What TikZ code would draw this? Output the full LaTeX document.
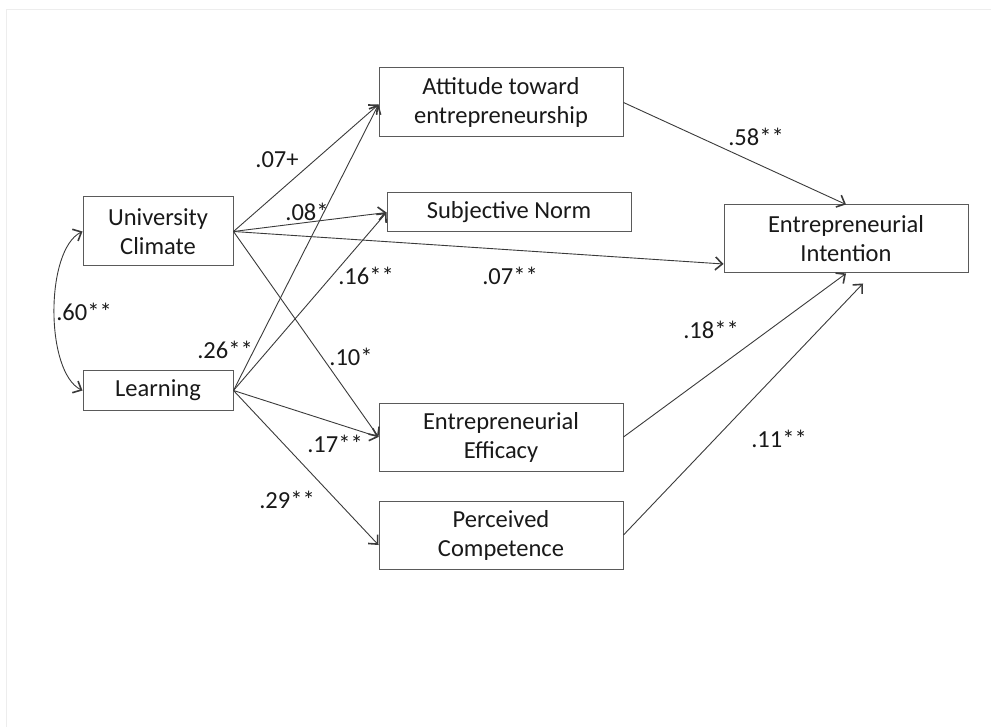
\documentclass[tikz,border=0pt]{standalone}
\usepackage{fontspec}
\setmainfont{Carlito}
\usetikzlibrary{arrows.meta,calc}
\definecolor{boxline}{HTML}{5A5A5A}
\definecolor{arrline}{HTML}{3A3A3A}
\definecolor{frameline}{HTML}{EDEDED}
\tikzset{
  varbox/.style={draw=boxline, line width=1pt, fill=white, align=center, inner sep=0pt,
    font=\fontsize{24.5}{29}\selectfont, text=black!90},
  path/.style={draw=arrline, line width=0.9pt, -{Straight Barb[length=7pt,width=13pt,line width=1.6pt]}},
  coef/.style={font=\fontsize{24.5}{29}\selectfont, text=black!90, inner sep=0pt}
}
\begin{document}
\begin{tikzpicture}[x=1pt,y=-1pt]
\useasboundingbox (0,0) rectangle (991,727);
\draw[frameline, line width=1pt] (6,727) -- (6,9.5) -- (991,9.5);

% boxes
\node[varbox, minimum width=150pt, minimum height=69pt] (uc) at (158,231.5) {University\\Climate};
\node[varbox, minimum width=150pt, minimum height=39pt] (lrn) at (158,390.5) {Learning};
\node[varbox, minimum width=244pt, minimum height=69pt] (att) at (501,102.5) {Attitude toward\\entrepreneurship};
\node[varbox, minimum width=244pt, minimum height=39pt] (sn) at (509,212.5) {Subjective Norm};
\node[varbox, minimum width=244pt, minimum height=68pt] (eff) at (501,437) {Entrepreneurial\\Efficacy};
\node[varbox, minimum width=244pt, minimum height=68pt] (pc) at (501,535) {Perceived\\Competence};
\node[varbox, minimum width=244pt, minimum height=68pt] (ei) at (846,239) {Entrepreneurial\\Intention};

\coordinate (eitgt) at ($(ei.west)+(0,25)$);
\coordinate (pctgt) at ($(pc.west)+(0,10)$);
\coordinate (pcfree) at ($(ei.south)+(17,10)$);
\coordinate (atttgt) at ($(att.west)+(0,2)$);

% paths
\draw[path] (uc.east) -- (atttgt);
\draw[path] (lrn.east) -- (atttgt);
\draw[path] (uc.east) -- (sn.west);
\draw[path] (lrn.east) -- (sn.west);
\draw[path] (uc.east) -- (eitgt);
\draw[path] (uc.east) -- (eff.west);
\draw[path] (lrn.east) -- (eff.west);
\draw[path] (lrn.east) -- (pctgt);
\draw[path] (att.east) -- (ei.north);
\draw[path] (eff.east) -- (ei.south);
\draw[path] (pc.east) -- (pcfree);

% correlation
\draw[draw=arrline, line width=0.9pt, {Straight Barb[length=7pt,width=13pt,line width=1.6pt]}-{Straight Barb[length=7pt,width=13pt,line width=1.6pt]}]
  (uc.west) .. controls (45,250) and (45,372) .. (lrn.west);

% coefficients
\node[coef] (c60) at (84,312) {.60**};
\node[coef] (c07a) at (277,160) {.07+};
\node[coef] (c08) at (307,212) {.08*};
\node[coef] (c16) at (366,276) {.16**};
\node[coef] (c07b) at (510,276) {.07**};
\node[coef] (c10) at (351,357) {.10*};
\node[coef] (c26) at (225,350) {.26**};
\node[coef] (c17) at (335,444) {.17**};
\node[coef] (c29) at (287,500) {.29**};
\node[coef] (c58) at (756,137) {.58**};
\node[coef] (c18) at (711,330) {.18**};
\node[coef] (c11) at (779,439) {.11**};
\end{tikzpicture}
\end{document}
